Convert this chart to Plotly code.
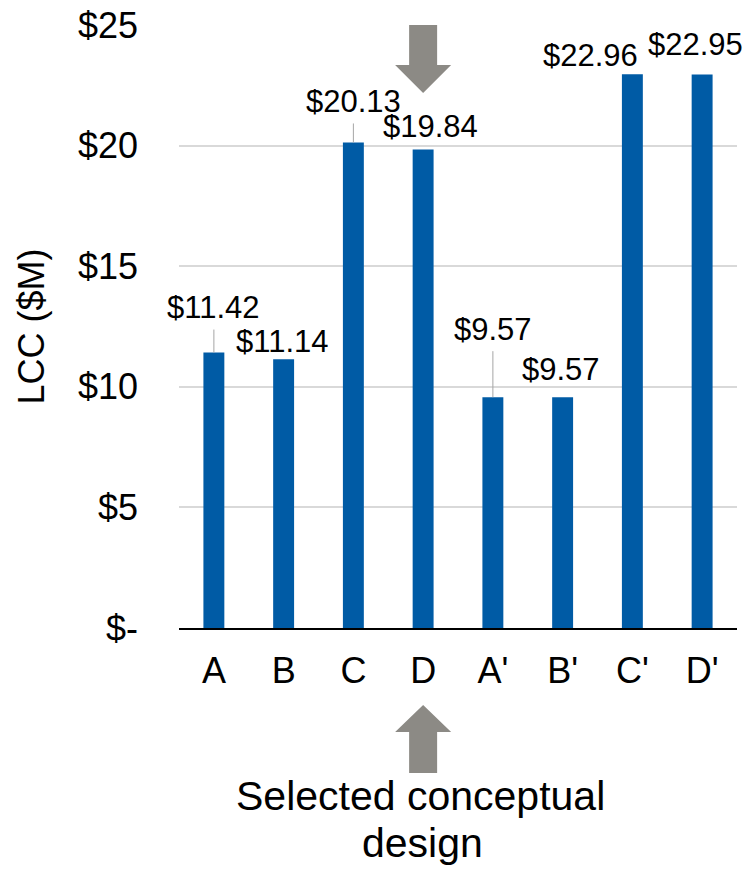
import plotly.graph_objects as go

# Life-cycle cost per design option ($M)
designs = ["A", "B", "C", "D", "A'", "B'", "C'", "D'"]
lcc_values = [11.42, 11.14, 20.13, 19.84, 9.57, 9.57, 22.96, 22.95]
y_tick_values = [0, 5, 10, 15, 20, 25]
y_tick_labels = ["$-", "$5", "$10", "$15", "$20", "$25"]
selected_design = "D"

# Label placement: (x shift px, y shift px, leader line?) relative to each bar top
label_offsets = [
    (0, -45, True),
    (-1, -18, False),
    (0, -41, True),
    (7, -23, False),
    (0, -68, True),
    (-2, -28, False),
    (-42, -19, False),
    (-7, -30, False),
]

FONT = "Liberation Sans, Arial, sans-serif"
BAR_COLOR = "#005BA5"
ARROW_COLOR = "#8C8A85"

fig = go.Figure(
    go.Bar(
        x=designs,
        y=lcc_values,
        width=0.3,
        marker=dict(color=BAR_COLOR, line=dict(width=0)),
        hoverinfo="skip",
    )
)

annotations = []
for name, val, (dx, dy, leader) in zip(designs, lcc_values, label_offsets):
    text = f"${val:.2f}"
    if leader:
        annotations.append(dict(
            x=name, y=val, xref="x", yref="y", text=text,
            showarrow=True, ax=dx, ay=dy, axref="pixel", ayref="pixel",
            arrowhead=0, arrowwidth=1, arrowcolor="#A6A6A6",
            startstandoff=3,
            font=dict(family=FONT, size=31, color="black"),
        ))
    else:
        annotations.append(dict(
            x=name, y=val, xref="x", yref="y", text=text,
            showarrow=False, xshift=dx, yshift=-dy,
            xanchor="center", yanchor="middle",
            font=dict(family=FONT, size=31, color="black"),
        ))

# Caption under the highlighted design
annotations.append(dict(
    x=selected_design, y=0, xref="x", yref="paper", text="Selected conceptual",
    showarrow=False, xshift=-3, yshift=-168, xanchor="center", yanchor="middle",
    font=dict(family=FONT, size=41, color="black"),
))
annotations.append(dict(
    x=selected_design, y=0, xref="x", yref="paper", text="design",
    showarrow=False, xshift=-1, yshift=-215, xanchor="center", yanchor="middle",
    font=dict(family=FONT, size=41, color="black"),
))

# Block arrows pointing at the selected design (pixel-sized, anchored to its column)
sel_frac = (designs.index(selected_design) + 0.5) / len(designs)
down_arrow = "M -14,0 L 14,0 L 14,-40 L 28,-40 L 0,-68 L -28,-40 L -14,-40 Z"
up_arrow = "M -14,-145 L 14,-145 L 14,-104 L 28,-104 L 0,-77 L -28,-104 L -14,-104 Z"
shapes = [
    dict(type="path", path=down_arrow, xref="paper", yref="paper",
         xsizemode="pixel", ysizemode="pixel", xanchor=sel_frac, yanchor=1,
         fillcolor=ARROW_COLOR, line=dict(width=0), layer="above"),
    dict(type="path", path=up_arrow, xref="paper", yref="paper",
         xsizemode="pixel", ysizemode="pixel", xanchor=sel_frac, yanchor=0,
         fillcolor=ARROW_COLOR, line=dict(width=0), layer="above"),
]

fig.update_layout(
    width=749,
    height=870,
    margin=dict(l=179, r=12, t=25, b=242, autoexpand=False),
    paper_bgcolor="white",
    plot_bgcolor="white",
    showlegend=False,
    font=dict(family=FONT, color="black"),
    annotations=annotations,
    shapes=shapes,
    xaxis=dict(
        type="category",
        categoryorder="array",
        categoryarray=designs,
        range=[-0.5, len(designs) - 0.5],
        automargin=False,
        showline=True,
        linecolor="black",
        linewidth=1.5,
        showgrid=False,
        ticks="",
        ticklabelstandoff=10,
        tickfont=dict(family=FONT, size=36, color="black"),
        fixedrange=True,
    ),
    yaxis=dict(
        range=[0, 25],
        tickvals=y_tick_values,
        ticktext=y_tick_labels,
        automargin=False,
        showgrid=True,
        gridcolor="#D9D9D9",
        gridwidth=1.5,
        zeroline=False,
        showline=False,
        ticks="",
        ticklabelstandoff=40,
        tickfont=dict(family=FONT, size=36, color="black"),
        title=dict(text="LCC ($M)", font=dict(family=FONT, size=36, color="black"), standoff=22),
        fixedrange=True,
    ),
)

fig.write_html("out.html")
